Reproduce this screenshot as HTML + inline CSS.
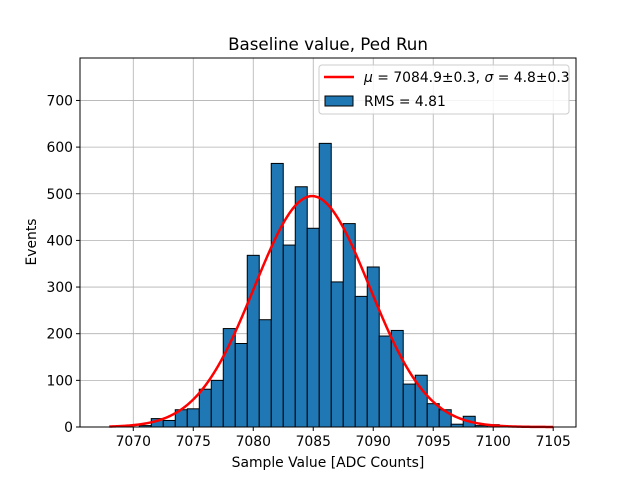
<!DOCTYPE html>
<html><head><meta charset="utf-8"><style>
body{margin:0;background:#fff;font-family:"DejaVu Sans","Liberation Sans",sans-serif}
svg text{font-family:"DejaVu Sans","Liberation Sans",sans-serif}
</style></head><body>
<svg id="chart" width="640" height="480" xmlns="http://www.w3.org/2000/svg"></svg>
<script>
const binCenters=[7071,7072,7073,7074,7075,7076,7077,7078,7079,7080,7081,7082,7083,7084,7085,7086,7087,7088,7089,7090,7091,7092,7093,7094,7095,7096,7097,7098,7099,7100];
const counts=[3,18,14,37,39,81,100,211,179,368,230,565,390,515,426,608,311,436,280,343,195,207,92,111,50,37,6,23,3,5];
const fitMu=[7084.9];
const fitSigma=[4.8];
const fitAmp=[495];
const xTicks=[7070,7075,7080,7085,7090,7095,7100,7105];
const yTicks=[0,100,200,300,400,500,600,700];
const L=80,R=576,T=58,B=427,XMIN=7065.56,XMAX=7106.9,YMAX=791;
const sx=v=>L+(v-XMIN)/(XMAX-XMIN)*(R-L);
const sy=v=>B-v/YMAX*(B-T);
const svg=document.getElementById('chart');
const NS='http://www.w3.org/2000/svg';
function mk(t,a,p){const e=document.createElementNS(NS,t);for(const k in a)e.setAttribute(k,a[k]);(p||svg).appendChild(e);return e;}
const grid=mk('g',{});


xTicks.forEach(v=>mk('line',{x1:sx(v),x2:sx(v),y1:T,y2:B,stroke:'#b0b0b0','stroke-width':0.8},grid));
yTicks.forEach(v=>mk('line',{x1:L,x2:R,y1:sy(v),y2:sy(v),stroke:'#b0b0b0','stroke-width':0.8},grid));
const bars=mk('g',{});


binCenters.forEach((c,i)=>{
 const r=mk('rect',{x:sx(c-0.5),y:sy(counts[i]),width:sx(c+0.5)-sx(c-0.5),height:B-sy(counts[i]),fill:'#1f77b4',stroke:'#000','stroke-width':1},bars);
 
 
});
let d='';
for(let x=7068;x<=7105.001;x+=0.1){const y=fitAmp[0]*Math.exp(-0.5*Math.pow((x-fitMu[0])/fitSigma[0],2));d+=(d?'L':'M')+sx(x).toFixed(2)+' '+sy(y).toFixed(2);}
const fit=mk('path',{d:d,fill:'none',stroke:'#ff0000','stroke-width':2.5});


const fr=mk('rect',{x:L,y:T,width:R-L,height:B-T,fill:'none',stroke:'#000','stroke-width':1});


xTicks.forEach(v=>{mk('line',{x1:sx(v),x2:sx(v),y1:B,y2:B+4,stroke:'#000'});
 const t=mk('text',{x:sx(v),y:B+19,'text-anchor':'middle','font-size':13.9});t.textContent=v;
 
 });
yTicks.forEach(v=>{mk('line',{x1:L-4,x2:L,y1:sy(v),y2:sy(v),stroke:'#000'});
 const t=mk('text',{x:L-7,y:sy(v)+5,'text-anchor':'end','font-size':13.9});t.textContent=v;
 
 });
</script>
<svg width="640" height="480" style="position:absolute;left:0;top:0" xmlns="http://www.w3.org/2000/svg">
<text x="328" y="50" text-anchor="middle" font-size="16.7">Baseline value, Ped Run</text>
<text x="328" y="467" text-anchor="middle" font-size="13.9">Sample Value [ADC Counts]</text>
<text transform="translate(36,242) rotate(-90)" text-anchor="middle" font-size="13.9">Events</text>
<g>
<rect x="319" y="65" width="250" height="49" rx="3" fill="#fff" fill-opacity="0.85" stroke="#ccc"/>
<line x1="324" y1="77" x2="354" y2="77" stroke="#ff0000" stroke-width="2.5"/>
<text x="364" y="82" font-size="13.9"><tspan font-style="italic">μ</tspan> = 7084.9±0.3, <tspan font-style="italic">σ</tspan> = 4.8±0.3</text>
<rect x="325" y="96" width="28" height="10" fill="#1f77b4" stroke="#000"/>
<text x="364" y="106" font-size="13.9">RMS = 4.81</text>
</g>
</svg>
</body></html>
